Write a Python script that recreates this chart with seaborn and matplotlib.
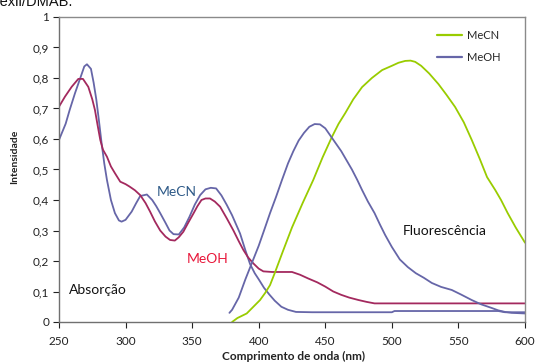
import matplotlib
matplotlib.use("Agg")
import matplotlib.pyplot as plt
import seaborn as sns

# absorption, MeCN (blue trace)
abs_mecn_nm = [250, 255, 258, 262, 266, 269, 271, 274, 276, 278, 280, 282, 284, 286, 289,
               292, 295, 297, 300, 304.6, 308, 311, 316, 320, 323, 326, 330, 333, 336, 340,
               344, 348, 352, 356, 360, 364, 368, 372, 376, 380, 383, 386, 390, 393.5, 397,
               400, 404, 408, 412, 417, 422, 428, 440, 500, 502, 580, 585, 600]
abs_mecn = [0.597, 0.65, 0.695, 0.75, 0.80, 0.838, 0.845, 0.83, 0.785, 0.73, 0.66, 0.586,
            0.52, 0.466, 0.40, 0.357, 0.333, 0.329, 0.335, 0.362, 0.39, 0.413, 0.418, 0.40,
            0.38, 0.357, 0.325, 0.30, 0.288, 0.287, 0.31, 0.345, 0.385, 0.416, 0.435, 0.44,
            0.438, 0.415, 0.384, 0.35, 0.32, 0.29, 0.235, 0.19, 0.16, 0.14, 0.112, 0.09,
            0.07, 0.05, 0.04, 0.033, 0.032, 0.032, 0.036, 0.036, 0.032, 0.032]

# absorption, MeOH (magenta trace)
abs_meoh_nm = [250, 254.5, 259.5, 264.5, 268, 272, 275, 277, 279, 281, 283, 286, 289, 292,
               296, 300, 303, 307, 311, 315, 318.4, 322, 326, 330, 333.4, 337, 340, 343.4,
               347, 351, 354, 357, 360, 363.4, 367, 371, 376, 381, 385, 388.5, 392, 396,
               400, 403.5, 410, 425, 431, 437, 444, 450, 456, 462, 468, 475, 481, 487, 600]
abs_meoh = [0.706, 0.739, 0.771, 0.797, 0.797, 0.771, 0.73, 0.695, 0.645, 0.597, 0.565,
            0.542, 0.51, 0.488, 0.46, 0.452, 0.444, 0.432, 0.416, 0.39, 0.362, 0.33, 0.30,
            0.28, 0.269, 0.267, 0.278, 0.296, 0.325, 0.356, 0.38, 0.40, 0.405, 0.405, 0.395,
            0.378, 0.34, 0.30, 0.265, 0.236, 0.212, 0.192, 0.175, 0.166, 0.164, 0.164, 0.155,
            0.143, 0.13, 0.116, 0.10, 0.089, 0.08, 0.072, 0.066, 0.061, 0.061]

# fluorescence, MeCN (green)
fl_mecn_nm = [380, 384, 391, 396, 401, 404.8, 408.5, 412, 418, 425, 433, 441, 448, 455, 460,
              465, 471, 477.6, 485, 492.7, 500, 505, 510, 514, 517.5, 522, 528, 535, 541,
              547.5, 554, 560, 566, 571.5, 577.6, 582, 587, 593, 600]
fl_mecn = [0.0, 0.013, 0.028, 0.05, 0.072, 0.095, 0.121, 0.16, 0.23, 0.31, 0.39, 0.466, 0.54,
           0.607, 0.65, 0.685, 0.73, 0.77, 0.80, 0.826, 0.84, 0.85, 0.856, 0.857, 0.853,
           0.84, 0.815, 0.78, 0.745, 0.705, 0.655, 0.597, 0.535, 0.475, 0.433, 0.40, 0.357,
           0.31, 0.26]

# fluorescence, MeOH (blue)
fl_meoh_nm = [378, 380, 385, 390, 395, 400, 404, 408.5, 413, 417.5, 422, 426, 430, 434, 438,
              442, 446, 450, 454, 458, 462, 466, 470, 474, 477.6, 482, 487, 491, 495, 500,
              506, 512, 518, 524, 530, 537, 545, 552, 560, 567, 575, 580, 585, 590, 600]
fl_meoh = [0.03, 0.04, 0.08, 0.14, 0.195, 0.25, 0.30, 0.357, 0.41, 0.466, 0.52, 0.56, 0.595,
           0.62, 0.64, 0.649, 0.648, 0.635, 0.61, 0.585, 0.56, 0.53, 0.50, 0.466, 0.433,
           0.395, 0.357, 0.32, 0.285, 0.246, 0.205, 0.18, 0.16, 0.145, 0.128, 0.115, 0.105,
           0.09, 0.072, 0.058, 0.046, 0.038, 0.033, 0.03, 0.028]

x_ticks = [250, 300, 350, 400, 450, 500, 550, 600]
y_ticks = [0, 0.1, 0.2, 0.3, 0.4, 0.5, 0.6, 0.7, 0.8, 0.9, 1.0]
y_tick_labels = ["0", "0,1", "0,2", "0,3", "0,4", "0,5", "0,6", "0,7", "0,8", "0,9", "1"]

blue = "#6666a8"
magenta = "#a3295e"
green = "#99cc00"

sns.set_theme(style="white")
plt.rcParams["font.family"] = ["Lato", "DejaVu Sans"]

fig = plt.figure(figsize=(5.35, 3.63), dpi=100)
ax = fig.add_axes([59 / 535, 1 - 322 / 363, 466 / 535, 305 / 363])

sns.lineplot(x=abs_mecn_nm, y=abs_mecn, color=blue, lw=1.3, ax=ax)
sns.lineplot(x=abs_meoh_nm, y=abs_meoh, color=magenta, lw=1.3, ax=ax)
sns.lineplot(x=fl_mecn_nm, y=fl_mecn, color=green, lw=1.3, ax=ax, label="MeCN")
sns.lineplot(x=fl_meoh_nm, y=fl_meoh, color=blue, lw=1.3, ax=ax, label="MeOH")

ax.set_xlim(250, 600)
ax.set_ylim(0, 1)
ax.set_xticks(x_ticks)
ax.set_yticks(y_ticks)
ax.set_yticklabels(y_tick_labels)
ax.tick_params(axis="both", labelsize=8.5, colors="#222222", length=4, width=0.8,
               direction="out", left=True, bottom=True)
ax.tick_params(axis="x", pad=6)
ax.tick_params(axis="y", pad=3)
for t in ax.get_xticklines() + ax.get_yticklines():
    t.set_color("#808080")

for s in ["left", "bottom"]:
    ax.spines[s].set_color("#707070")
    ax.spines[s].set_linewidth(1.0)
for s in ["top", "right"]:
    ax.spines[s].set_color("#8a8a8a")
    ax.spines[s].set_linewidth(1.0)

ax.set_xlabel("Comprimento de onda (nm)", fontsize=8.5, fontweight="bold", color="#222222")
ax.set_ylabel("Intensidade", fontsize=7.5, fontweight="bold", color="#222222")
ax.xaxis.set_label_coords(0.503, -0.094)
ax.yaxis.set_label_coords(-0.086, 0.54)

ax.text(279, 0.105, "Absorção", fontsize=10, ha="center", va="center", color="#111111")
ax.text(540, 0.298, "Fluorescência", fontsize=10, ha="center", va="center", color="#111111")
ax.text(338.8, 0.426, "MeCN", fontsize=10, ha="center", va="center", color="#2e5a88")
ax.text(361.6, 0.207, "MeOH", fontsize=10, ha="center", va="center", color="#e8173a")

leg = ax.legend(loc="upper left", bbox_to_anchor=(0.80, 0.975), frameon=False, fontsize=8,
                handlelength=2.2, handletextpad=0.5, labelspacing=1.0, borderpad=0)
for line in leg.get_lines():
    line.set_linewidth(1.6)

# caption cut off at the top of the screenshot
fig.text(-0.02, 1 - 6 / 363, "Hexil/DMAB.", fontsize=10.5, va="baseline",
         family=["Liberation Sans", "DejaVu Sans"], color="#111111")

fig.savefig("out.png", dpi=100)
